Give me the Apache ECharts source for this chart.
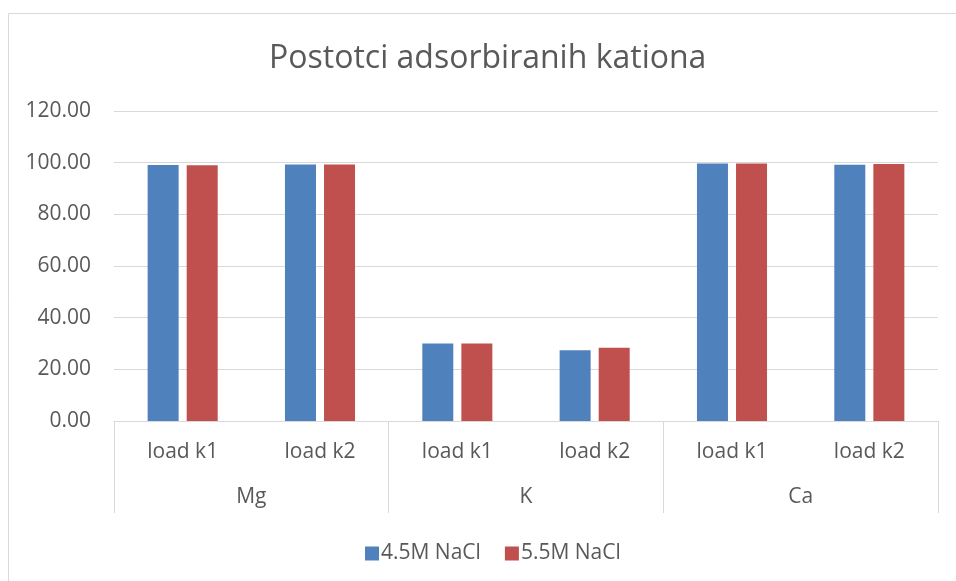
<!DOCTYPE html>
<html>
<head>
<meta charset="utf-8">
<script src="https://cdn.jsdelivr.net/npm/echarts@6/dist/echarts.min.js"></script>
<style>html,body{margin:0;padding:0;background:#fff;}#c{width:956px;height:581px;}</style>
</head>
<body>
<div id="c"></div>
<script>
const titleText = 'Postotci adsorbiranih kationa';
const innerCategories = ['load k1', 'load k2', 'load k1', 'load k2', 'load k1', 'load k2'];
const groupCategories = ['Mg', 'K', 'Ca'];
const seriesNames = ['4.5M NaCl', '5.5M NaCl'];
const values45 = [99.1, 99.3, 30.0, 27.4, 99.7, 99.2];
const values55 = [99.0, 99.3, 30.0, 28.4, 99.7, 99.5];
const yTicks = [0, 20, 40, 60, 80, 100, 120];

const FONT = 'Open Sans';
const TXT = '#595959';
const GRIDC = '#D9D9D9';

const chart = echarts.init(document.getElementById('c'));
chart.setOption({
  animation: false,
  textStyle: { fontFamily: FONT },
  graphic: [{
    type: 'rect', silent: true, z: -10,
    shape: { x: 8.5, y: 13.5, width: 960, height: 600 },
    style: { fill: '#fff', stroke: GRIDC, lineWidth: 1 }
  }],
  title: {
    text: titleText, left: 264, top: 38,
    textStyle: { fontFamily: FONT, fontSize: 32, fontWeight: 'normal', color: TXT }
  },
  legend: {
    data: seriesNames, left: 360, top: 538,
    icon: 'rect', itemWidth: 14, itemHeight: 14, itemGap: 24,
    textStyle: { fontFamily: FONT, fontSize: 21, color: TXT, padding: [0, 0, 0, -3] }
  },
  grid: { left: 114, right: 18, top: 111, bottom: 160, containLabel: false },
  xAxis: [{
    type: 'category', data: innerCategories, gridIndex: 0, position: 'bottom',
    axisLine: { show: true, lineStyle: { color: GRIDC, width: 1 } },
    axisTick: { show: false },
    axisLabel: { interval: 0, margin: 21, fontFamily: FONT, fontSize: 21, color: TXT }
  }, {
    type: 'category', data: groupCategories, gridIndex: 0, position: 'bottom',
    axisLine: { show: false },
    axisTick: { show: true, length: 92, interval: 0, lineStyle: { color: GRIDC, width: 1 } },
    axisLabel: { interval: 0, margin: 66, fontFamily: FONT, fontSize: 21, color: TXT },
    splitLine: { show: false }
  }],
  yAxis: {
    type: 'value', min: yTicks[0], max: yTicks[yTicks.length - 1], interval: yTicks[1] - yTicks[0],
    axisLine: { show: false }, axisTick: { show: false },
    splitLine: { lineStyle: { color: GRIDC, width: 1 } },
    axisLabel: { margin: 23, fontFamily: FONT, fontSize: 21, color: TXT, formatter: v => v.toFixed(2) }
  },
  series: [{
    name: seriesNames[0], type: 'bar', xAxisIndex: 0, data: values45,
    barWidth: 31, barGap: '26%', itemStyle: { color: '#4F81BD' }
  }, {
    name: seriesNames[1], type: 'bar', xAxisIndex: 0, data: values55,
    barWidth: 31, barGap: '26%', itemStyle: { color: '#C0504D' }
  }]
});
</script>
</body>
</html>
